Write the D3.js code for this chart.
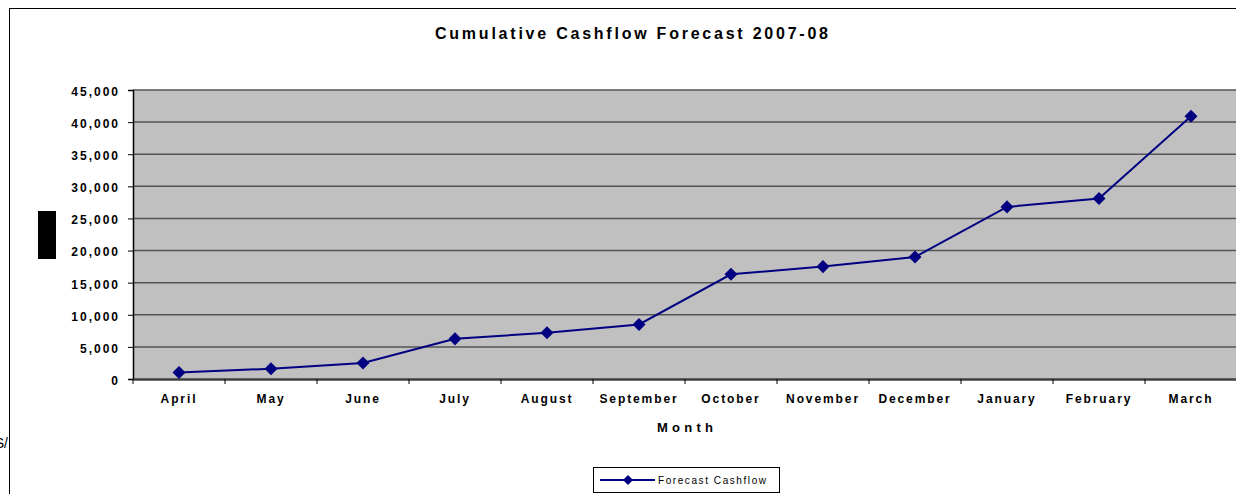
<!DOCTYPE html>
<html>
<head>
<meta charset="utf-8">
<script src="https://cdn.jsdelivr.net/npm/d3@7"></script>
<style>
  body { margin: 0; background: #fff; }
  svg { display: block; font-family: Arial, "Liberation Sans", sans-serif; }
</style>
</head>
<body>
<svg></svg>
<script>
var months = ["April", "May", "June", "July", "August", "September",
              "October", "November", "December", "January", "February", "March"];
var cashflow = [1000, 1600, 2500, 6250, 7200, 8500, 16300, 17500, 19000, 26800, 28100, 40900];
var yTicks = [0, 5000, 10000, 15000, 20000, 25000, 30000, 35000, 40000, 45000];

var width = 1236;
var height = 494;
var margin = {left: 133, top: 90, right: 1237, bottom: 379};

var svg = d3.select('svg')
    .attr('width', width)
    .attr('height', height);

// outer chart frame (runs off the right and bottom of the window)
svg.append('rect')
  .attr('x', 9.5)
  .attr('y', 8.5)
  .attr('width', 1300)
  .attr('height', 600)
  .attr('fill', 'none')
  .attr('stroke', '#000')
  .attr('stroke-width', 1);

var x = d3.scaleBand()
  .domain(months)
  .range([margin.left, margin.right]);

var y = d3.scaleLinear()
  .domain([0, 45000])
  .range([margin.bottom, margin.top]);

// plot area
svg.append('rect')
  .attr('x', margin.left)
  .attr('y', margin.top)
  .attr('width', margin.right - margin.left)
  .attr('height', margin.bottom - margin.top)
  .attr('fill', '#c0c0c0');

svg.append('g')
  .selectAll('line')
  .data(yTicks.slice(1))
  .enter()
  .append('line')
    .attr('x1', margin.left)
    .attr('x2', margin.right)
    .attr('y1', d => y(d))
    .attr('y2', d => y(d))
    .attr('stroke', '#555')
    .attr('stroke-width', 1.5);

// y axis
var yAxis = svg.append('g')
  .attr('transform', 'translate(' + margin.left + ',0)')
  .call(d3.axisLeft(y).tickValues(yTicks).tickSize(5).tickFormat(d3.format(',')));
yAxis.select('.domain').attr('stroke', '#000').attr('stroke-width', 1.5);
yAxis.selectAll('.tick line').attr('stroke', '#000');
yAxis.selectAll('text')
  .attr('x', -13)
  .attr('dy', '0.45em')
  .attr('font-size', 12)
  .attr('font-weight', 'bold')
  .attr('letter-spacing', 2)
  .attr('fill', '#000');

// x axis
var xAxis = svg.append('g')
  .attr('transform', 'translate(0,' + margin.bottom + ')')
  .call(d3.axisBottom(x).tickSize(0).tickPadding(15));
xAxis.select('.domain').attr('stroke', '#404040').attr('stroke-width', 2.5);
xAxis.selectAll('text')
  .attr('font-size', 12)
  .attr('font-weight', 'bold')
  .attr('letter-spacing', 1.9)
  .attr('fill', '#000');

svg.append('g')
  .selectAll('line')
  .data(months)
  .enter()
  .append('line')
    .attr('x1', d => x(d))
    .attr('x2', d => x(d))
    .attr('y1', margin.bottom)
    .attr('y2', margin.bottom + 5)
    .attr('stroke', '#000');

// line + markers
var line = d3.line()
  .x((d, i) => x(months[i]) + x.bandwidth() / 2)
  .y(d => y(d));

svg.append('path')
  .datum(cashflow)
  .attr('d', line)
  .attr('fill', 'none')
  .attr('stroke', '#000080')
  .attr('stroke-width', 2);

var diamond = d3.symbol().type(d3.symbolSquare).size(85);

svg.append('g')
  .selectAll('path')
  .data(cashflow)
  .enter()
  .append('path')
    .attr('d', diamond)
    .attr('transform', (d, i) => 'translate(' + (x(months[i]) + x.bandwidth() / 2) + ',' + y(d) + ') rotate(45)')
    .attr('fill', '#000080');

// title + axis title
svg.append('text')
  .attr('x', 435)
  .attr('y', 38.5)
  .attr('font-size', 16)
  .attr('font-weight', 'bold')
  .attr('textLength', 393)
  .attr('lengthAdjust', 'spacing')
  .text('Cumulative Cashflow Forecast 2007-08');

svg.append('text')
  .attr('x', 657)
  .attr('y', 432)
  .attr('font-size', 13)
  .attr('font-weight', 'bold')
  .attr('textLength', 56)
  .attr('lengthAdjust', 'spacing')
  .text('Month');

// black block where the y-axis title would be
svg.append('rect')
  .attr('x', 38)
  .attr('y', 211)
  .attr('width', 18)
  .attr('height', 48)
  .attr('fill', '#000');

// clipped text at far left
svg.append('text')
  .attr('x', 8)
  .attr('y', 448)
  .attr('text-anchor', 'end')
  .attr('font-size', 14)
  .text('S/');

// legend
var legend = svg.append('g').attr('transform', 'translate(593,467)');
legend.append('rect')
  .attr('x', 0.5)
  .attr('y', 0.5)
  .attr('width', 186)
  .attr('height', 25)
  .attr('fill', '#fff')
  .attr('stroke', '#000');
legend.append('line')
  .attr('x1', 7)
  .attr('x2', 62)
  .attr('y1', 13)
  .attr('y2', 13)
  .attr('stroke', '#000080')
  .attr('stroke-width', 2);
legend.append('path')
  .attr('d', d3.symbol().type(d3.symbolSquare).size(50))
  .attr('transform', 'translate(35,13) rotate(45)')
  .attr('fill', '#000080');
legend.append('text')
  .attr('x', 65)
  .attr('y', 17)
  .attr('font-size', 10)
  .attr('textLength', 108)
  .attr('lengthAdjust', 'spacing')
  .text('Forecast Cashflow');
</script>
</body>
</html>
